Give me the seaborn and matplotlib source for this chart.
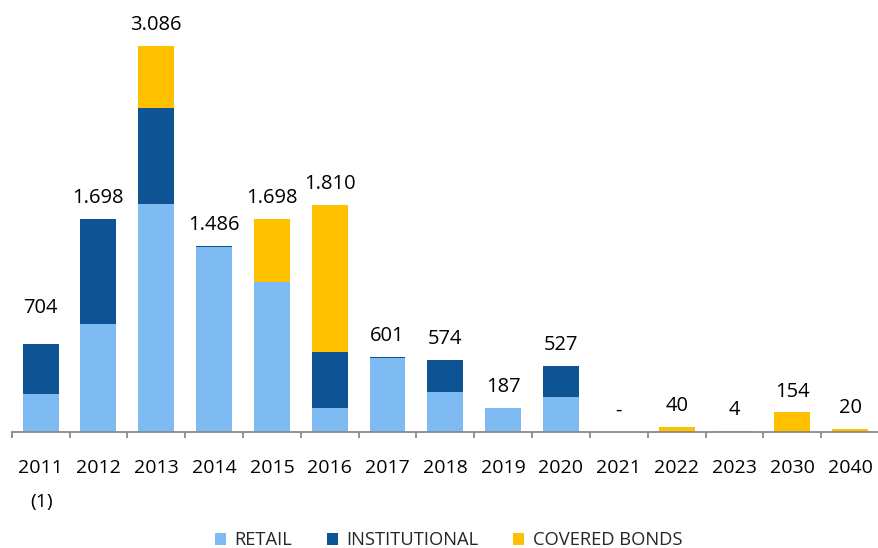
import matplotlib
matplotlib.use("Agg")
import matplotlib.pyplot as plt
from matplotlib.patches import Patch
from matplotlib.ticker import FixedLocator, NullFormatter
import seaborn as sns
import numpy as np
import pandas as pd

# ---- data ----
years = ["2011", "2012", "2013", "2014", "2015", "2016", "2017", "2018",
         "2019", "2020", "2021", "2022", "2023", "2030", "2040"]
retail = [299, 858, 1820, 1477, 1197, 187, 593, 318, 187, 277, 0, 0, 4, 0, 0]
institutional = [405, 840, 768, 9, 0, 450, 8, 256, 0, 250, 0, 0, 0, 0, 0]
covered_bonds = [0, 0, 498, 0, 501, 1173, 0, 0, 0, 0, 0, 40, 0, 154, 20]
series_names = ["RETAIL", "INSTITUTIONAL", "COVERED BONDS"]
footnote = "(1)"

# ---- style ----
sns.set_style("white")
plt.rcParams["font.family"] = ["Open Sans", "DejaVu Sans"]
c_retail = "#7DBBF2"
c_inst = "#0E5394"
c_cov = "#FFC000"
axis_gray = "#898989"

df = pd.DataFrame({"year": years, "retail": retail,
                   "institutional": institutional, "covered": covered_bonds})
df["ri"] = df["retail"] + df["institutional"]
df["total"] = df["ri"] + df["covered"]

fig = plt.figure(figsize=(8.79, 5.48), dpi=100)
ax = fig.add_axes([0.0133, 0.2122, 0.9867, 0.98175 - 0.2122])

bw = 0.62
sns.barplot(data=df, x="year", y="total", color=c_cov, saturation=1,
            width=bw, errorbar=None, linewidth=0, ax=ax)
sns.barplot(data=df, x="year", y="ri", color=c_inst, saturation=1,
            width=bw, errorbar=None, linewidth=0, ax=ax)
sns.barplot(data=df, x="year", y="retail", color=c_retail, saturation=1,
            width=bw, errorbar=None, linewidth=0, ax=ax)

ax.set_xlim(-0.5, len(years) - 0.5)
ax.set_ylim(0, 3371)
ax.set_xlabel("")
ax.set_ylabel("")
ax.set_yticks([])

for s in ["top", "right", "left"]:
    ax.spines[s].set_visible(False)
ax.spines["bottom"].set_color(axis_gray)
ax.spines["bottom"].set_linewidth(1.3)

ax.tick_params(axis="x", which="major", length=0, pad=20, labelsize=14,
               labelcolor="#000000")
ax.xaxis.set_minor_locator(FixedLocator(np.arange(-0.5, len(years), 1.0)))
ax.xaxis.set_minor_formatter(NullFormatter())
ax.tick_params(axis="x", which="minor", length=4.5, width=1.3,
               color=axis_gray, direction="out", bottom=True)

# value labels
for i, tot in enumerate(df["total"]):
    txt = "-" if tot == 0 else f"{tot:,}".replace(",", ".")
    off = 26 if i == 0 else 15
    ax.annotate(txt, (i, tot), xytext=(0, off), textcoords="offset points",
                ha="center", va="center", fontsize=14.5, color="#000000")

# footnote under first category
ax.annotate(footnote, (0, 0), xycoords=("data", "axes fraction"),
            xytext=(1, -50.4), textcoords="offset points",
            ha="center", va="center", fontsize=14, color="#000000")

handles = [Patch(facecolor=c, edgecolor="none") for c in (c_retail, c_inst, c_cov)]
fig.legend(handles, series_names, loc="center", bbox_to_anchor=(0.5103, 0.014),
           ncol=3, frameon=False, fontsize=13.2, handlelength=0.6,
           handleheight=0.6, handletextpad=0.45, columnspacing=1.9,
           borderpad=0, borderaxespad=0)

fig.savefig("out.png", dpi=100)
